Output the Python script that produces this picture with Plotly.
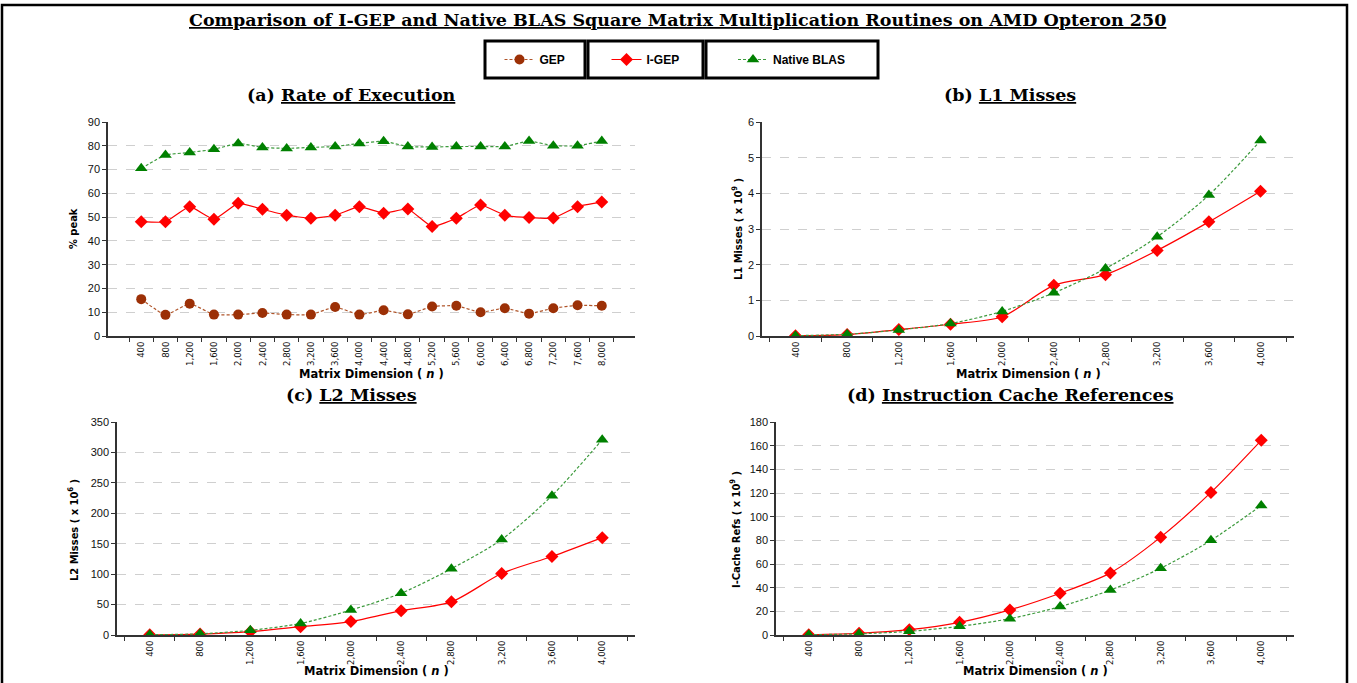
import plotly.graph_objects as go

# ---------------- data ----------------
n_rate = [400, 800, 1200, 1600, 2000, 2400, 2800, 3200, 3600, 4000,
          4400, 4800, 5200, 5600, 6000, 6400, 6800, 7200, 7600, 8000]
gep_rate = [15.5, 8.9, 13.6, 9.0, 9.0, 9.7, 9.0, 9.0, 12.2, 9.0,
            10.8, 9.1, 12.4, 12.7, 10.0, 11.7, 9.4, 11.7, 12.9, 12.7]
igep_rate = [48.1, 48.0, 54.4, 49.1, 55.8, 53.3, 50.8, 49.5, 50.8, 54.4,
             51.6, 53.4, 46.0, 49.5, 55.1, 50.8, 49.8, 49.6, 54.4, 56.4]
blas_rate = [70.5, 76.1, 77.2, 78.5, 81.0, 79.3, 78.9, 79.3, 79.7, 81.0,
             81.9, 79.7, 79.5, 79.7, 79.7, 79.7, 82.0, 80.0, 80.0, 82.0]

n_small = [400, 800, 1200, 1600, 2000, 2400, 2800, 3200, 3600, 4000]
igep_l1 = [0.01, 0.04, 0.18, 0.33, 0.54, 1.42, 1.72, 2.40, 3.20, 4.06]
blas_l1 = [0.01, 0.05, 0.17, 0.35, 0.69, 1.21, 1.89, 2.78, 3.95, 5.48]
igep_l2 = [0.3, 1.5, 5.5, 13.7, 22.0, 40.0, 54.5, 101.0, 129.0, 160.0]
blas_l2 = [0.4, 2.0, 7.7, 19.0, 41.0, 68.6, 109.0, 157.0, 229.0, 321.0]
igep_ic = [0.3, 1.4, 4.5, 10.7, 21.2, 35.3, 52.5, 82.7, 120.5, 164.5]
blas_ic = [0.2, 1.0, 3.1, 7.3, 13.8, 24.0, 38.0, 56.4, 80.0, 109.5]

labels_rate = [f"{v:,}" for v in n_rate]
labels_small = [f"{v:,}" for v in n_small]

# ---------------- style ----------------
W, H = 1357, 683
RED = "#ff0000"
GREEN = "#008000"
GREEN_LINE = "#3c9a3c"
BROWN = "#9c3006"
BROWN_LINE = "#b0552a"
SANS = "Liberation Sans, Arial, sans-serif"
NARROW = "Liberation Sans Narrow, DejaVu Sans Condensed, Liberation Sans, Arial"
WIDE = "DejaVu Sans, Liberation Sans, Arial"
SERIF = "DejaVu Serif, Liberation Serif, serif"


def px(x):
    return x / W


def py(y):
    return (H - y) / H


fig = go.Figure()


def add(xlabels, y, name, color, line_color, symbol, size, dash, ax, legend, show, smooth):
    fig.add_trace(go.Scatter(
        x=xlabels, y=y, name=name, mode="lines+markers",
        line=dict(color=line_color, width=1.2, dash=dash, shape="spline", smoothing=smooth),
        marker=dict(color=color, symbol=symbol, size=size, line=dict(width=0)),
        xaxis="x" + ax, yaxis="y" + ax, legend=legend, showlegend=show,
    ))


DASH = "3px,2px"
# panel (a)
add(labels_rate, gep_rate, "GEP", BROWN, BROWN_LINE, "circle", 10, DASH, "", "legend", True, 0.4)
add(labels_rate, igep_rate, "I-GEP", RED, RED, "diamond", 10, "solid", "", "legend2", True, 0.4)
add(labels_rate, blas_rate, "Native BLAS", GREEN, GREEN_LINE, "triangle-up", 11, DASH, "", "legend3", True, 0.4)
# panel (b)
add(labels_small, igep_l1, "I-GEP", RED, RED, "diamond", 10, "solid", "2", "legend2", False, 0.8)
add(labels_small, blas_l1, "Native BLAS", GREEN, GREEN_LINE, "triangle-up", 11, DASH, "2", "legend3", False, 0.8)
# panel (c)
add(labels_small, igep_l2, "I-GEP", RED, RED, "diamond", 10, "solid", "3", "legend2", False, 0.8)
add(labels_small, blas_l2, "Native BLAS", GREEN, GREEN_LINE, "triangle-up", 11, DASH, "3", "legend3", False, 0.8)
# panel (d)
add(labels_small, igep_ic, "I-GEP", RED, RED, "diamond", 10, "solid", "4", "legend2", False, 0.8)
add(labels_small, blas_ic, "Native BLAS", GREEN, GREEN_LINE, "triangle-up", 11, DASH, "4", "legend3", False, 0.8)


def xaxis(x0, x1, anchor):
    return dict(domain=[px(x0), px(x1)], anchor=anchor, type="category",
                showline=True, linecolor="#333333", linewidth=1.5,
                ticks="outside", ticklen=4, tickcolor="#333333", tickson="boundaries",
                tickangle=-90, tickfont=dict(family=NARROW, size=9.5, color="#111111"),
                showgrid=False, zeroline=False, automargin=False, fixedrange=True)


def yaxis(y0, y1, anchor, rng, dtick):
    return dict(domain=[py(y1), py(y0)], anchor=anchor, range=rng, dtick=dtick,
                showline=True, linecolor="#333333", linewidth=1.5,
                ticks="outside", ticklen=4, tickcolor="#333333",
                tickfont=dict(family=SANS, size=11, color="#111111"),
                showgrid=True, gridcolor="#cfcfcf", griddash="dash", gridwidth=1,
                zeroline=False, automargin=False, fixedrange=True)


legend_common = dict(orientation="h", yanchor="middle", y=py(59.5),
                     borderwidth=0, bgcolor="rgba(0,0,0,0)",
                     font=dict(family=SANS, size=12, color="black", weight="bold"),
                     xanchor="center")

annotations = []


def ann(text, x, y, size, family, angle=0, bold=True):
    annotations.append(dict(text=text, x=px(x), y=py(y), xref="paper", yref="paper",
                            showarrow=False, textangle=angle, xanchor="center", yanchor="middle",
                            font=dict(family=family, size=size, color="black",
                                      weight="bold" if bold else "normal")))


ann("<u>Comparison of I-GEP and Native BLAS Square Matrix Multiplication Routines on AMD Opteron 250</u>",
    677, 20, 17.5, SERIF)
ann("(a) <u>Rate of Execution</u>", 351, 95, 17.5, SERIF)
ann("(b) <u>L1 Misses</u>", 1010, 95, 17.5, SERIF)
ann("(c) <u>L2 Misses</u>", 351, 395, 17.5, SERIF)
ann("(d) <u>Instruction Cache References</u>", 1010, 395, 17.5, SERIF)

ann("Matrix Dimension ( <i>n</i> )", 371, 374, 11.5, WIDE)
ann("Matrix Dimension ( <i>n</i> )", 1028, 374, 11.5, WIDE)
ann("Matrix Dimension ( <i>n</i> )", 376, 671, 11.5, WIDE)
ann("Matrix Dimension ( <i>n</i> )", 1035, 671, 11.5, WIDE)

ann("% peak", 73, 229, 11, NARROW, angle=-90)
ann("L1 Misses ( x 10<sup>9</sup> )", 737, 229, 11, NARROW, angle=-90)
ann("L2 Misses ( x 10<sup>6</sup> )", 73, 530, 11, NARROW, angle=-90)
ann("I-Cache Refs ( x 10<sup>9</sup> )", 735, 530, 11, NARROW, angle=-90)

legend_boxes = [(485, 585), (588, 703), (706, 878)]
shapes = [dict(type="rect", xref="paper", yref="paper", x0=px(2), x1=px(1347),
               y0=-0.05, y1=py(5), line=dict(color="black", width=2.5))]
for x0, x1 in legend_boxes:
    shapes.append(dict(type="rect", xref="paper", yref="paper", x0=px(x0), x1=px(x1),
                       y0=py(78), y1=py(41), line=dict(color="black", width=3)))

fig.update_layout(
    width=W, height=H, margin=dict(l=0, r=0, t=0, b=0),
    paper_bgcolor="white", plot_bgcolor="white",
    xaxis=xaxis(108, 635, "y"), yaxis=yaxis(122, 336, "x", [0, 90], 10),
    xaxis2=xaxis(762, 1294, "y2"), yaxis2=yaxis(122, 336, "x2", [0, 6], 1),
    xaxis3=xaxis(117, 635, "y3"), yaxis3=yaxis(422, 635, "x3", [0, 350], 50),
    xaxis4=xaxis(776, 1294, "y4"), yaxis4=yaxis(422, 635, "x4", [0, 180], 20),
    legend=dict(legend_common, x=px(535)),
    legend2=dict(legend_common, x=px(645.5)),
    legend3=dict(legend_common, x=px(792)),
    annotations=annotations,
    shapes=shapes,
    showlegend=True,
)

fig.write_html("out.html", config={"displayModeBar": False},
               post_script="document.body.style.margin='0';document.body.style.overflow='hidden';")
